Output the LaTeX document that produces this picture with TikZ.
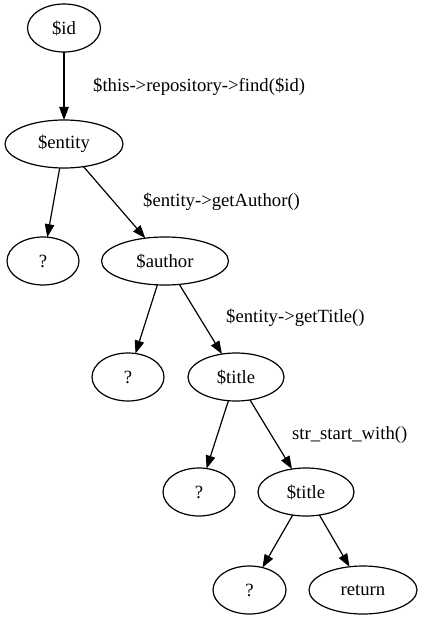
\documentclass[tikz,border=0pt]{standalone}
\usepackage{fontspec}
\setmainfont{Liberation Serif}
\usetikzlibrary{shapes.geometric,arrows.meta}
\begin{document}
\begin{tikzpicture}[x=1bp,y=-1bp,
  every node/.style={font=\fontsize{18.67bp}{22bp}\selectfont},
  gnode/.style={draw,ellipse,line width=1.2bp,inner sep=0pt,outer sep=0pt,minimum height=48bp},
  lbl/.style={anchor=west,inner sep=0pt},
  edge/.style={line width=1.2bp,-{Triangle[length=13bp,width=9.5bp]}}]
\useasboundingbox (0,0) rectangle (429,620);
\node[gnode,minimum width=73bp] (id) at (64,28) {\$id};
\node[gnode,minimum width=118bp] (entity) at (64,144) {\$entity};
\node[gnode,minimum width=72bp] (q1) at (43,261) {?};
\node[gnode,minimum width=127bp] (author) at (165,261) {\$author};
\node[gnode,minimum width=72bp] (q2) at (128,377) {?};
\node[gnode,minimum width=96bp] (title) at (236,377) {\$title};
\node[gnode,minimum width=72bp] (q3) at (199,492) {?};
\node[gnode,minimum width=96bp] (title2) at (306,492) {\$title};
\node[gnode,minimum width=73bp] (q4) at (249.5,590) {?};
\node[gnode,minimum width=108bp] (ret) at (363,590) {return};
\draw[edge] (id) -- (entity);
\draw[edge] (entity) -- (q1);
\draw[edge] (entity) -- (author);
\draw[edge] (author) -- (q2);
\draw[edge] (author) -- (title);
\draw[edge] (title) -- (q3);
\draw[edge] (title) -- (title2);
\draw[edge] (title2) -- (q4);
\draw[edge] (title2) -- (ret);
\node[lbl] (l1) at (93,87) {\$this->repository->find(\$id)};
\node[lbl] (l2) at (143,202) {\$entity->getAuthor()};
\node[lbl] (l3) at (226,318) {\$entity->getTitle()};
\node[lbl] (l4) at (292,435) {str\_start\_with()};
\end{tikzpicture}
\end{document}
